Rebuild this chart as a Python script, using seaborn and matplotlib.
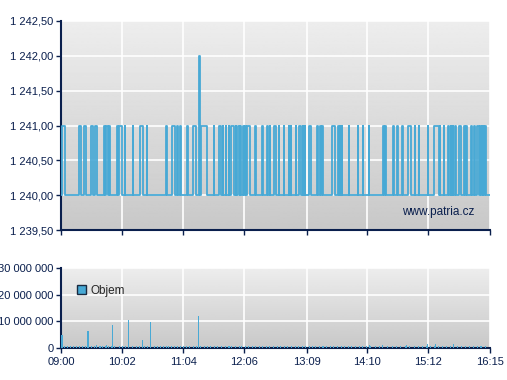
import numpy as np
import pandas as pd
import matplotlib
matplotlib.use("Agg")
import matplotlib.pyplot as plt
from matplotlib.patches import Patch
import seaborn as sns

# minutes since 09:00 where the price stepped up to 1 241 and back down to 1 240
up_spans = [
    (1, 4.4), (18, 20), (23, 25), (30, 32), (34, 36), (44, 45), (46, 48), (49, 50),
    (57, 57.4), (59, 62), (65, 65.4), (73, 73.4), (80, 83), (87, 87.4), (106, 107),
    (113, 116), (118, 118.4), (121, 121.4), (128, 128.4), (134, 137),
    (155, 155.4), (160, 162), (164, 164.4), (167, 167.4), (170, 170.4), (172, 175),
    (177, 177.4), (179, 181), (182, 182.4), (185, 185.4), (187, 188), (189, 192),
    (197, 197.4), (204, 204.4), (209, 209.4), (212, 212.4), (216, 218), (221, 221.4),
    (226, 226.4), (231, 231.4), (233, 233.4), (238, 238.4), (241, 243), (245, 245.4),
    (247, 247.4), (251, 254), (260, 260.4), (263, 263.4), (265, 265.4), (275, 278),
    (281, 281.4), (283, 283.4), (285, 285.4), (292, 292.4), (301, 301.4), (306, 306.4),
    (312, 312.4), (327, 327.4), (329, 329.4), (337, 337.4), (341, 341.4), (346, 346.4),
    (352, 355), (359, 359.4), (363, 363.4), (372, 372.4), (378, 383), (384, 384.4),
    (388, 388.4), (392, 393), (395, 395.4), (397, 397.4), (400, 400.4), (404, 406),
    (409, 409.4), (411, 411.4), (416, 416.4), (419, 419.4), (422, 424), (425, 426),
    (426.5, 427.5), (428, 429), (429.5, 431),
]
# the single trade at 1 242 and the run that followed it
peak_times = [140, 140.6, 141, 142, 148]
peak_prices = [1242, 1241, 1240, 1241, 1240]

# large volume bars (minute, shares)
spike_minutes = [0, 1, 26, 27, 35, 40, 46, 52, 68, 82, 90, 139, 170,
                 265, 312, 325, 350, 371, 379, 397, 425]
spike_volumes = [5_000_000, 5_000_000, 6_200_000, 5_800_000, 1_200_000, 800_000,
                 1_200_000, 8_800_000, 10_000_000, 2_900_000, 9_100_000, 11_900_000,
                 900_000, 800_000, 1_100_000, 1_000_000, 1_000_000, 1_400_000,
                 1_500_000, 1_400_000, 700_000]
# minutes with small trades forming the strip along the bottom
base_minutes = [3, 6, 9, 12, 15, 18, 21, 24, 27, 30, 33, 36, 39, 42, 45, 48, 51, 54,
                59, 62, 65, 68, 72, 76, 79, 84, 87, 90, 94, 97, 100, 103, 106, 109,
                112, 115, 118, 121, 124, 127, 130, 134, 137, 141, 145, 148, 151, 155,
                158, 162, 166, 169, 172, 176, 180, 183, 187, 190, 194, 197, 201, 204,
                208, 211, 215, 219, 222, 226, 229, 233, 237, 240, 244, 247, 251, 255,
                258, 262, 266, 269, 273, 276, 280, 284, 287, 291, 294, 298, 302, 305,
                309, 313, 318, 322, 326, 331, 336, 340, 344, 349, 353, 358, 362, 366,
                370, 374, 378, 382, 386, 390, 394, 398, 402, 406, 410, 414, 418, 422,
                426, 430]
base_volume = 600_000

x_ticks = [0, 62, 124, 186, 249, 310, 372, 435]
x_labels = ["09:00", "10:02", "11:04", "12:06", "13:09", "14:10", "15:12", "16:15"]
price_ticks = [1239.5, 1240.0, 1240.5, 1241.0, 1241.5, 1242.0, 1242.5]
price_labels = ["1 239,50", "1 240,00", "1 240,50", "1 241,00", "1 241,50",
                "1 242,00", "1 242,50"]
vol_ticks = [0, 10_000_000, 20_000_000, 30_000_000]
vol_labels = ["0", "10 000 000", "20 000 000", "30 000 000"]

# build the trade series
times, prices = [0.0], [1240.0]
for a, b in up_spans:
    if a > 140 and not any(t > 140 for t in times):
        times += peak_times
        prices += peak_prices
    times += [a, b]
    prices += [1241.0, 1240.0]
times.append(435)
prices.append(1240.0)
price_df = pd.DataFrame({"minute": times, "price": prices})

vol_df = pd.DataFrame({
    "minute": spike_minutes + base_minutes,
    "volume": spike_volumes + [base_volume] * len(base_minutes),
})

sns.set_style("white")
plt.rcParams["font.family"] = ["Liberation Sans", "DejaVu Sans"]
NAVY = "#0a1f4d"
BLUE = "#48a9d5"

fig = plt.figure(figsize=(5.07, 3.80), dpi=100)
ax1 = fig.add_axes([61 / 507, 1 - 230 / 380, 429 / 507, 209 / 380])
ax2 = fig.add_axes([61 / 507, 1 - 348 / 380, 429 / 507, 80 / 380])

grad = np.linspace(0.93, 0.785, 256).reshape(-1, 1)
for ax in (ax1, ax2):
    ax.imshow(grad, cmap="gray", vmin=0, vmax=1, aspect="auto",
              extent=[0, 1, 0, 1], transform=ax.transAxes, zorder=0)
    ax.set_xlim(0, 435)
    ax.set_xticks(x_ticks)
    ax.grid(True, color="white", lw=1.2, zorder=1)
    ax.set_axisbelow(True)
    for side in ("top", "right"):
        ax.spines[side].set_visible(False)
    for side in ("left", "bottom"):
        ax.spines[side].set_color(NAVY)
        ax.spines[side].set_linewidth(1.5)
    ax.tick_params(direction="out", length=3.5, width=1, color=NAVY,
                   labelcolor=NAVY, labelsize=8, pad=2, left=True, bottom=True)

sns.lineplot(data=price_df, x="minute", y="price", ax=ax1, color=BLUE, lw=1.3,
             estimator=None, sort=False, drawstyle="steps-post", zorder=3)
ax1.set_ylim(1239.5, 1242.5)
ax1.set_yticks(price_ticks)
ax1.set_yticklabels(price_labels)
ax1.set_xticklabels([])
ax1.set_xlabel("")
ax1.set_ylabel("")
ax1.text(0.879, 0.085, "www.patria.cz", transform=ax1.transAxes, ha="center",
         va="center", fontsize=8.5, color=NAVY)

sns.histplot(data=vol_df, x="minute", weights="volume", binwidth=1,
             binrange=(0, 436), ax=ax2, color=BLUE, alpha=1, edgecolor="none",
             linewidth=0, zorder=3)
ax2.set_ylim(0, 30_000_000)
ax2.set_yticks(vol_ticks)
ax2.set_yticklabels(vol_labels)
ax2.set_xticklabels(x_labels)
ax2.set_xlabel("")
ax2.set_ylabel("")
ax2.tick_params(axis="x", pad=3)
leg = ax2.legend(handles=[Patch(facecolor=BLUE, edgecolor="#1a2a40", label="Objem")],
                 loc="upper left", bbox_to_anchor=(0.009, 0.94), borderaxespad=0,
                 fontsize=8.5, frameon=True, fancybox=False, framealpha=0,
                 handlelength=0.8, handleheight=0.8, handletextpad=0.4,
                 borderpad=1.0)
leg.get_frame().set_edgecolor("black")
leg.get_frame().set_linewidth(1)

fig.savefig("out.png", dpi=100)
